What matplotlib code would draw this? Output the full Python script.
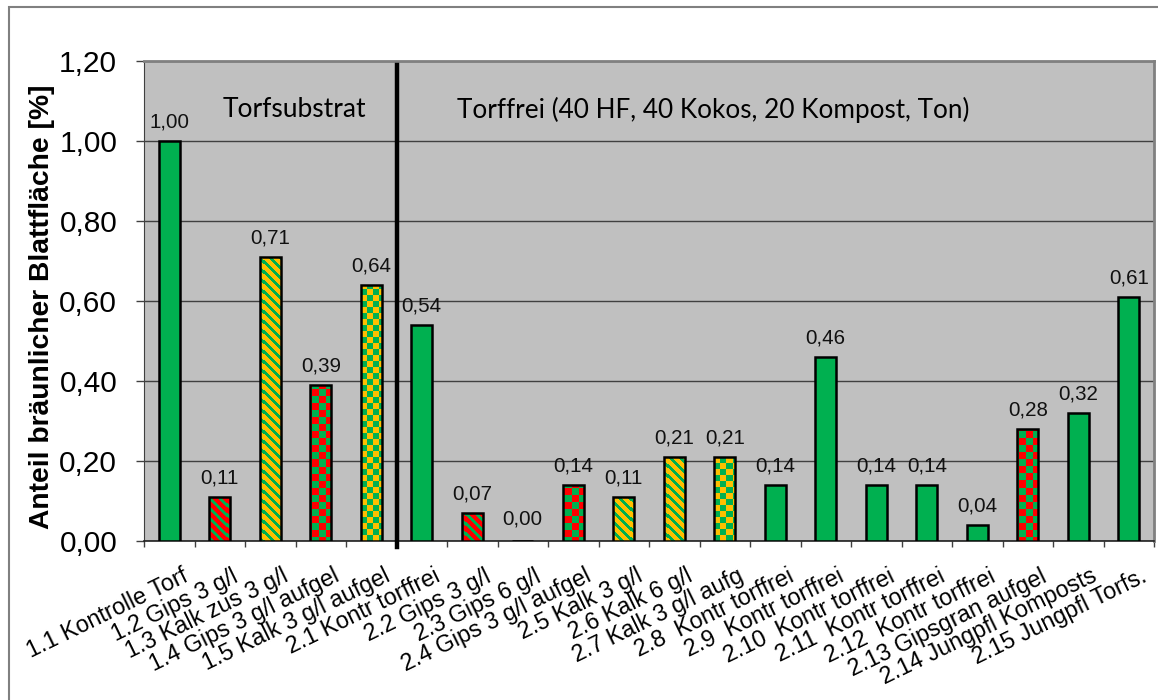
import numpy as np
import matplotlib
matplotlib.use("Agg")
import matplotlib.pyplot as plt
from matplotlib.patches import Rectangle
from matplotlib.transforms import ScaledTranslation

# ---- data ----
categories = [
    "1.1 Kontrolle Torf", "1.2 Gips 3 g/l", "1.3 Kalk zus 3 g/l", "1.4 Gips 3 g/l aufgel",
    "1.5 Kalk 3 g/l aufgel", "2.1 Kontr torffrei", "2.2 Gips 3 g/l", "2.3 Gips 6 g/l",
    "2.4 Gips 3 g/l aufgel", "2.5 Kalk 3 g/l", "2.6 Kalk 6 g/l", "2.7 Kalk 3 g/l aufg",
    "2.8  Kontr torffrei", "2.9  Kontr torffrei", "2.10  Kontr torffrei", "2.11  Kontr torffrei",
    "2.12  Kontr torffrei", "2.13 Gipsgran aufgel", "2.14 Jungpfl Komposts", "2.15 Jungpfl Torfs.",
]
values = [1.00, 0.11, 0.71, 0.39, 0.64, 0.54, 0.07, 0.00, 0.14, 0.11,
          0.21, 0.21, 0.14, 0.46, 0.14, 0.14, 0.04, 0.28, 0.32, 0.61]
fill_styles = ["solid", "stripe_rg", "stripe_yg", "check_rg", "check_yg",
               "solid", "stripe_rg", "stripe_rg", "check_rg", "stripe_yg",
               "stripe_yg", "check_yg", "solid", "solid", "solid", "solid",
               "solid", "check_rg", "solid", "solid"]
group_labels = ["Torfsubstrat", "Torffrei (40 HF, 40 Kokos, 20 Kompost, Ton)"]
y_ticks = [0.0, 0.2, 0.4, 0.6, 0.8, 1.0, 1.2]
y_label = "Anteil bräunlicher Blattfläche [%]"

GREEN = "#00B050"
RED = "#FF0000"
YELLOW = "#FFC000"

plt.rcParams["font.family"] = ["Liberation Sans", "DejaVu Sans"]

W_PX, H_PX = 1158, 700
DPI = 100
fig = plt.figure(figsize=(W_PX / DPI, H_PX / DPI), dpi=DPI)

ax_l, ax_r, ax_t, ax_b = 144, 1154, 61, 541
ax = fig.add_axes([ax_l / W_PX, 1 - ax_b / H_PX, (ax_r - ax_l) / W_PX, (ax_b - ax_t) / H_PX])
ax.set_facecolor("#C0C0C0")

# outer frame
fig.patches.append(Rectangle((8.5 / W_PX, -0.1), 1.2, 1.1 - 6.5 / H_PX,
                             transform=fig.transFigure, fill=False,
                             edgecolor="#808080", lw=1.5))

# pattern images in axes pixel space
aw, ah = ax_r - ax_l, ax_b - ax_t
ii, jj = np.mgrid[0:ah, 0:aw]
stripe = ((ii - jj) % 10) < 4
check7 = ((ii // 7 + jj // 7) % 2) == 0
check6 = ((ii // 6 + jj // 6) % 2) == 0


def rgb(h):
    return np.array(matplotlib.colors.to_rgb(h))


def two_color(mask, c_true, c_false):
    arr = np.empty((ah, aw, 3))
    arr[mask] = rgb(c_true)
    arr[~mask] = rgb(c_false)
    return arr


patterns = {
    "stripe_rg": (RED, two_color(stripe, GREEN, RED)),
    "stripe_yg": (YELLOW, two_color(stripe, GREEN, YELLOW)),
    "check_rg": (RED, two_color(check7, GREEN, RED)),
    "check_yg": (YELLOW, two_color(check6, GREEN, YELLOW)),
}

x = np.arange(len(categories))
bw = 0.42
for xi, v, st in zip(x, values, fill_styles):
    if st == "solid":
        ax.bar(xi, v, width=bw, color=GREEN, edgecolor="black", lw=1.8, zorder=3)
    else:
        base, arr = patterns[st]
        b = ax.bar(xi, v, width=bw, color=base, edgecolor="none", lw=0, zorder=3)[0]
        im = ax.imshow(arr, extent=[0, 1, 0, 1], transform=ax.transAxes,
                       aspect="auto", interpolation="nearest", zorder=3.5)
        im.set_clip_path(b)
        ax.bar(xi, v, width=bw, fill=False, edgecolor="black", lw=1.8, zorder=4)
    ax.annotate(f"{v:.2f}".replace(".", ","), (xi, v), xytext=(0, 7 if v > 0 else 9),
                textcoords="offset points", ha="center", va="bottom",
                fontsize=14.8, color="#111111", zorder=5)

ax.set_xlim(-0.5, len(categories) - 0.5)
ax.set_ylim(0, 1.2)
ax.set_autoscale_on(False)

# y axis
ax.set_yticks(y_ticks)
ax.set_yticklabels([f"{t:.2f}".replace(".", ",") for t in y_ticks], fontsize=21.5)
ax.tick_params(axis="y", direction="out", length=5.8, width=1, color="#404040", pad=13.5)
ax.yaxis.grid(True, color="#404040", lw=1)
ax.set_axisbelow(True)

# x axis
ax.set_xticks(x)
ax.set_xticks(np.arange(-0.5, len(categories), 1.0), minor=True)
ax.tick_params(axis="x", which="major", length=0, pad=17)
ax.tick_params(axis="x", which="minor", direction="out", length=4.3, width=1, color="#404040")
labels = ax.set_xticklabels(categories, rotation=26, ha="right", va="top",
                            rotation_mode="anchor", fontsize=16.8)
off = ScaledTranslation(12 / DPI, 0, fig.dpi_scale_trans)
for lab in labels:
    lab.set_transform(lab.get_transform() + off)

for s in ["top", "right"]:
    ax.spines[s].set_color("#808080")
    ax.spines[s].set_linewidth(2)
ax.spines["left"].set_color("#404040")
ax.spines["bottom"].set_color("#202020")
ax.spines["bottom"].set_linewidth(1.2)

# separator line
ax.plot([4.5, 4.5], [1.19, -0.015], color="black", lw=3.2, zorder=6, clip_on=False)

# group labels
ax.text(2.47, 1.078, group_labels[0], ha="center", va="center", fontsize=19,
        family=["Lato", "DejaVu Sans"], zorder=6)
ax.text(10.77, 1.078, group_labels[1], ha="center", va="center", fontsize=18.8,
        family=["Lato", "DejaVu Sans"], zorder=6)

fig.text(42 / W_PX, 1 - 307 / H_PX, y_label, rotation=90, ha="center", va="center",
         fontsize=20.3, fontweight="bold")

fig.savefig("out.png", dpi=DPI)
